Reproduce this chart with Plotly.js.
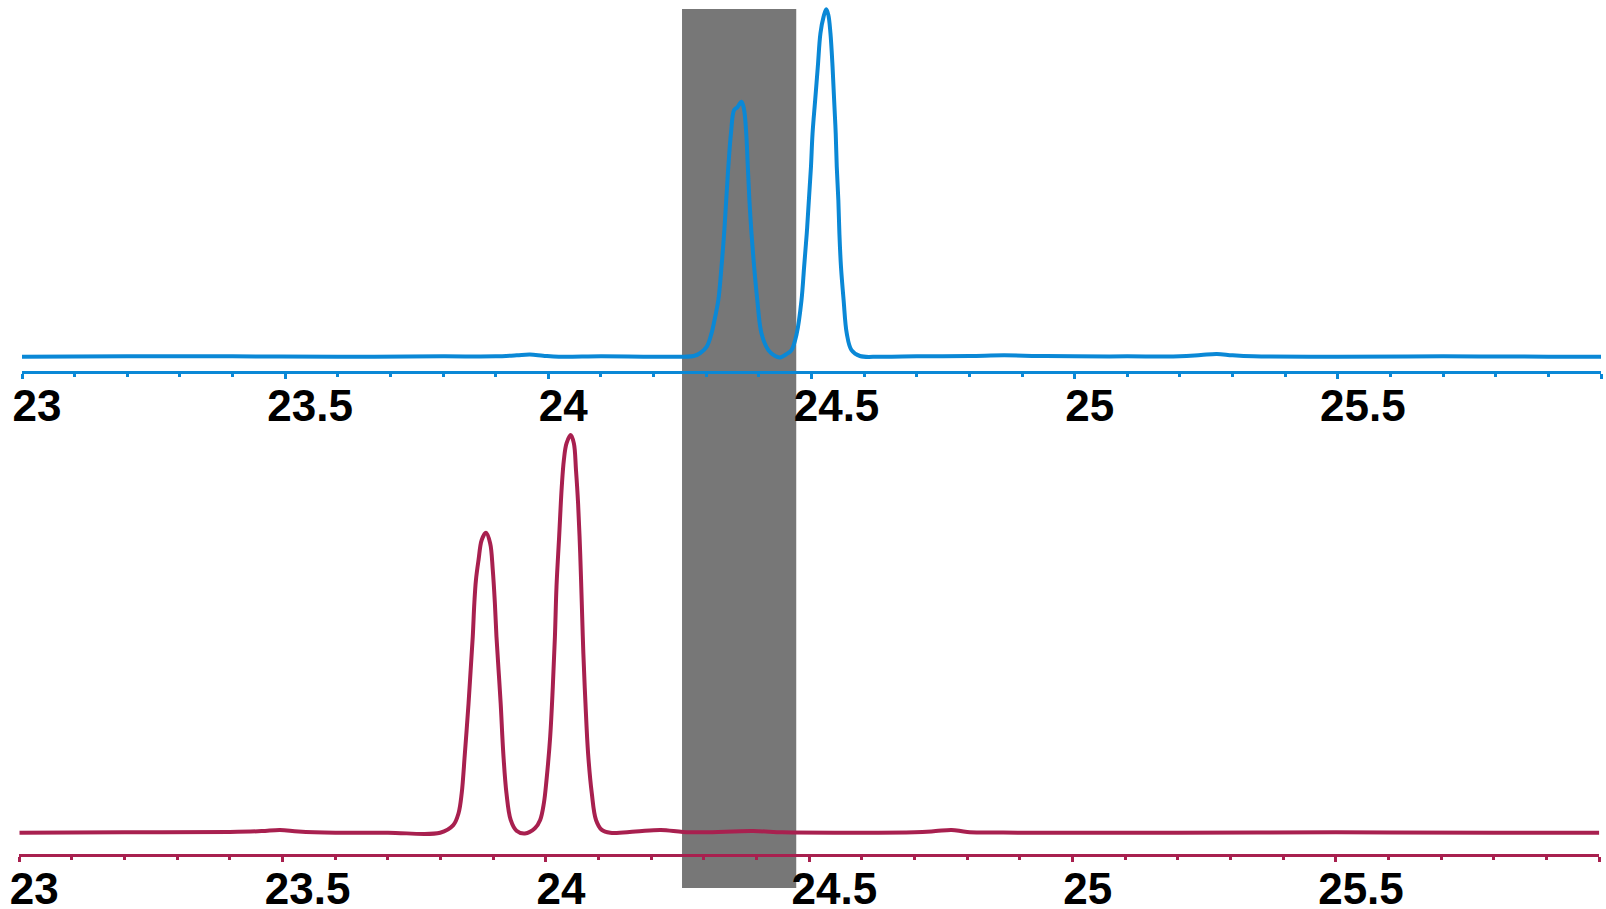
<!DOCTYPE html>
<html>
<head>
<meta charset="utf-8">
<script src="https://cdn.plot.ly/plotly-3.0.1.min.js"></script>
<style>html,body{margin:0;padding:0;background:#fff;}#chart{width:1606px;height:909px;}</style>
</head>
<body>
<div id="chart"></div>
<script>
// Upper trace (blue), retention time (min) and relative response
const blueX = [23.0, 23.2, 23.4, 23.6, 23.8, 23.9, 23.94, 23.965, 23.99, 24.02, 24.1, 24.212, 24.276, 24.288, 24.301, 24.310, 24.317, 24.323, 24.329, 24.334, 24.338, 24.342, 24.347, 24.353, 24.359, 24.367, 24.372, 24.376, 24.379, 24.382, 24.386, 24.391, 24.397, 24.405, 24.418, 24.431, 24.440, 24.453, 24.462, 24.472, 24.481, 24.486, 24.491, 24.495, 24.499, 24.502, 24.507, 24.512, 24.517, 24.523, 24.528, 24.532, 24.536, 24.540, 24.543, 24.546, 24.548, 24.551, 24.553, 24.556, 24.561, 24.567, 24.576, 24.592, 24.63, 24.7, 24.8, 24.866, 24.93, 25.0, 25.1, 25.2, 25.24, 25.27, 25.3, 25.34, 25.5, 25.7, 25.9, 26.0];
const blueY = [0, 0.1, 0.1, 0, 0.1, 0.1, 0.4, 0.6, 0.3, 0, 0.1, 0, 0.2, 1.0, 2.9, 6.7, 11.5, 16.3, 25.9, 35.5, 45.1, 54.7, 64.3, 71.0, 71.8, 73.4, 71.0, 64.3, 54.7, 45.1, 35.5, 25.9, 16.3, 6.7, 1.9, 0.2, -0.2, 0.8, 1.9, 6.7, 16.3, 25.9, 35.5, 45.1, 54.7, 64.3, 73.9, 83.5, 93.1, 97.9, 100, 98.4, 93.1, 83.5, 73.9, 64.3, 54.7, 45.1, 35.5, 25.9, 16.3, 6.7, 1.9, 0.2, 0, 0.1, 0.2, 0.4, 0.2, 0.1, 0.1, 0.1, 0.5, 0.8, 0.4, 0.1, 0, 0.1, 0, 0];

// Lower trace (crimson)
const redX = [23.0, 23.2, 23.4, 23.46, 23.495, 23.53, 23.6, 23.7, 23.799, 23.824, 23.834, 23.840, 23.846, 23.853, 23.857, 23.861, 23.864, 23.867, 23.872, 23.878, 23.886, 23.894, 23.899, 23.903, 23.906, 23.910, 23.914, 23.919, 23.925, 23.933, 23.944, 23.960, 23.979, 23.989, 23.996, 24.001, 24.008, 24.013, 24.017, 24.020, 24.025, 24.030, 24.034, 24.039, 24.047, 24.053, 24.057, 24.061, 24.065, 24.068, 24.071, 24.075, 24.080, 24.087, 24.095, 24.106, 24.122, 24.17, 24.218, 24.26, 24.3, 24.393, 24.45, 24.55, 24.7, 24.74, 24.77, 24.8, 24.9, 25.2, 25.5, 25.8, 26.0];
const redY = [0, 0.1, 0.2, 0.4, 0.7, 0.3, 0, 0, 0, 1.9, 4.9, 9.9, 19.9, 32.5, 40.9, 49.3, 57.7, 63.5, 68.6, 73.6, 75.4, 72.8, 66.1, 57.7, 49.3, 40.9, 32.5, 19.9, 9.9, 3.2, 0.5, -0.2, 1.1, 3.2, 7.4, 13.2, 24.1, 36.7, 49.3, 61.9, 74.4, 87.0, 93.7, 97.9, 100, 97.9, 91.2, 82.8, 70.2, 57.7, 45.1, 32.5, 19.9, 9.9, 3.2, 0.7, 0, 0.3, 0.7, 0.2, 0.1, 0.4, 0.1, 0, 0.1, 0.4, 0.7, 0.2, 0, 0, 0.1, 0, 0];

// Tick labels
const intTickVals = [23, 24, 25];
const intTickText = ['23', '24', '25'];
const halfTickVals = [23.5, 24.5, 25.5];
const halfTickText = ['23.5', '24.5', '25.5'];

// Highlighted retention window (min)
const bandX = [24.254, 24.471];

const BLUE = '#0A88D6';
const RED = '#A8204F';
const W = 1606, H = 909;
const px = v => v / W;
const py = v => 1 - v / H;

const labelFont = {family: 'Liberation Sans, Arial, sans-serif', size: 44, color: '#000000', weight: 'bold'};

function mainAxis(color, dom, anchor) {
  return {
    domain: dom, range: [23, 26], anchor: anchor,
    showgrid: false, zeroline: false,
    showline: true, linecolor: color, linewidth: 3.5,
    ticks: 'outside', tickmode: 'linear', tick0: 23, dtick: 0.5,
    ticklen: 5, tickwidth: 3, tickcolor: color,
    showticklabels: false,
    minor: {ticks: 'outside', tickmode: 'linear', tick0: 23, dtick: 0.1, ticklen: 2.5, tickwidth: 3, tickcolor: color},
    fixedrange: true
  };
}
function labelAxis(over, anchor, vals, text, shift, standoff) {
  return {
    overlaying: over, anchor: anchor, range: [23, 26],
    showgrid: false, zeroline: false, showline: false, ticks: '',
    tickmode: 'array', tickvals: vals, ticktext: text,
    tickfont: labelFont, ticklabelshift: shift, ticklabelstandoff: standoff,
    fixedrange: true
  };
}
// invisible carrier so an overlaid label axis gets drawn
function carrier(xa, ya, vals) {
  return {x: vals, y: vals.map(() => null), xaxis: xa, yaxis: ya, type: 'scatter',
          mode: 'markers', marker: {opacity: 0}, hoverinfo: 'skip', showlegend: false};
}

const topDom = [px(22), px(1601)];
const botDom = [px(19.3), px(1599.3)];

const data = [
  {x: blueX, y: blueY, xaxis: 'x', yaxis: 'y', type: 'scatter', mode: 'lines',
   line: {color: BLUE, width: 4, shape: 'spline', smoothing: 1}, hoverinfo: 'skip'},
  {x: redX, y: redY, xaxis: 'x2', yaxis: 'y2', type: 'scatter', mode: 'lines',
   line: {color: RED, width: 4, shape: 'spline', smoothing: 1}, hoverinfo: 'skip'},
  carrier('x3', 'y', intTickVals),
  carrier('x4', 'y', halfTickVals),
  carrier('x5', 'y2', intTickVals),
  carrier('x6', 'y2', halfTickVals)
];

const layout = {
  width: W, height: H,
  margin: {l: 0, r: 0, t: 0, b: 0, pad: 0},
  paper_bgcolor: '#ffffff', plot_bgcolor: 'rgba(0,0,0,0)',
  showlegend: false,
  xaxis: mainAxis(BLUE, topDom, 'y'),
  xaxis2: mainAxis(RED, botDom, 'y2'),
  xaxis3: labelAxis('x', 'y', intTickVals, intTickText, 15, 5),
  xaxis4: labelAxis('x', 'y', halfTickVals, halfTickText, 25, 5),
  xaxis5: labelAxis('x2', 'y2', intTickVals, intTickText, 15, 5),
  xaxis6: labelAxis('x2', 'y2', halfTickVals, halfTickText, 25, 5),
  yaxis: {domain: [py(370.5), py(5)], range: [-3.97, 101.24], visible: false, fixedrange: true, anchor: 'x'},
  yaxis2: {domain: [py(853.9), py(425)], range: [-5.33, 102.52], visible: false, fixedrange: true, anchor: 'x2'},
  shapes: [
    {type: 'rect', xref: 'x', yref: 'paper', x0: bandX[0], x1: bandX[1],
     y0: py(888), y1: py(9), fillcolor: '#777777', line: {width: 0}, layer: 'below'}
  ]
};

Plotly.newPlot('chart', data, layout, {displayModeBar: false, staticPlot: true});
</script>
</body>
</html>
